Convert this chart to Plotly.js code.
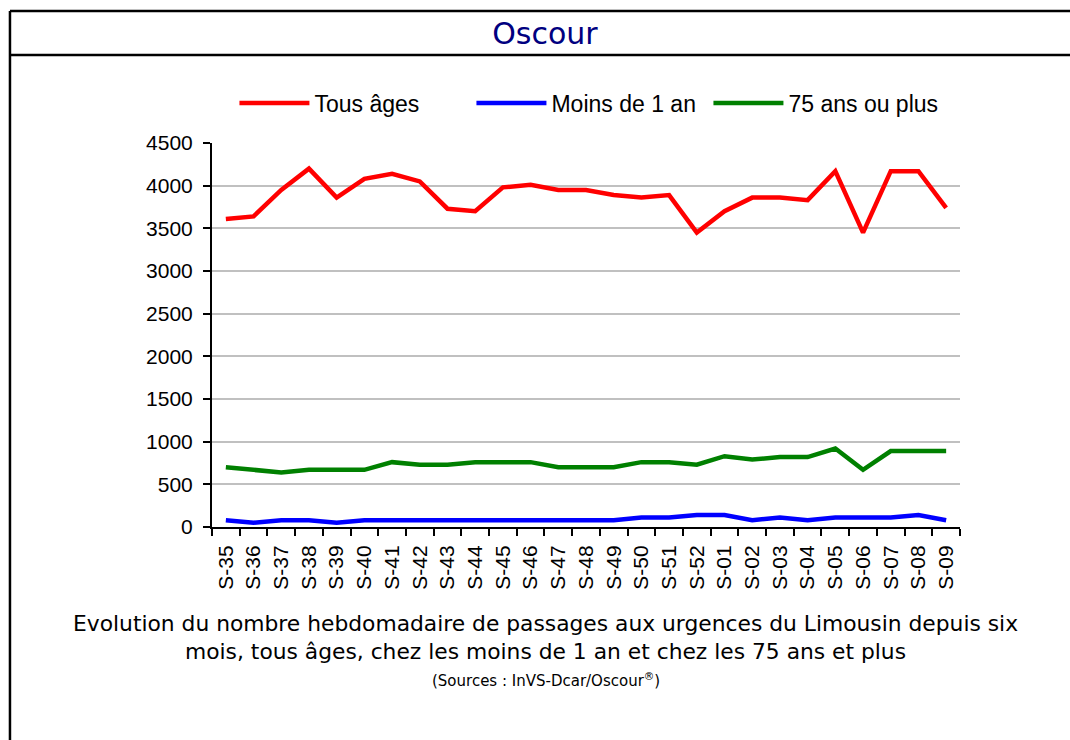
<!DOCTYPE html>
<html>
<head>
<meta charset="utf-8">
<script src="https://cdn.plot.ly/plotly-3.0.1.min.js"></script>
<style>
  body { margin: 0; background: #fff; }
  #plot { width: 1070px; height: 740px; }
</style>
</head>
<body>
<div id="plot"></div>
<script>
// Week labels
let weeks = ['S-35', 'S-36', 'S-37', 'S-38', 'S-39', 'S-40', 'S-41', 'S-42', 'S-43',
    'S-44', 'S-45', 'S-46', 'S-47', 'S-48', 'S-49', 'S-50', 'S-51', 'S-52',
    'S-01', 'S-02', 'S-03', 'S-04', 'S-05', 'S-06', 'S-07', 'S-08', 'S-09'];

// Weekly ER visits
let tousAges = [3610, 3640, 3950, 4200, 3860, 4080, 4140, 4050, 3730,
    3700, 3980, 4010, 3950, 3950, 3890, 3860, 3890, 3450,
    3700, 3860, 3860, 3830, 4170, 3450, 4170, 4170, 3740];
let moins1an = [80, 50, 80, 80, 50, 80, 80, 80, 80,
    80, 80, 80, 80, 80, 80, 110, 110, 140,
    140, 80, 110, 80, 110, 110, 110, 140, 80];
let plus75 = [700, 670, 640, 670, 670, 670, 760, 730, 730,
    760, 760, 760, 700, 700, 700, 760, 760, 730,
    830, 790, 820, 820, 920, 670, 890, 890, 890];

let names = ['Tous âges', 'Moins de 1 an', '75 ans ou plus'];
let colors = ['#ff0000', '#0000ff', '#008000'];
let series = [tousAges, moins1an, plus75];

let data = series.map(function (ys, i) {
    return {
        x: weeks,
        y: ys,
        name: names[i],
        type: 'scatter',
        mode: 'lines',
        line: {color: colors[i], width: 4.5}
    };
});

let captionFont = {family: 'DejaVu Sans, sans-serif', size: 21.8, color: '#000'};

let layout = {
    width: 1070,
    height: 740,
    margin: {l: 212, r: 110, t: 143, b: 213},
    paper_bgcolor: '#fff',
    plot_bgcolor: '#fff',
    font: {family: 'Liberation Sans, Arial, sans-serif', color: '#000'},
    title: {
        text: 'Oscour',
        font: {family: 'DejaVu Sans, sans-serif', size: 30, color: '#000080'},
        x: 0.5093, xanchor: 'center',
        y: 0.955, yanchor: 'middle'
    },
    showlegend: true,
    legend: {
        orientation: 'h',
        x: 0.03, xanchor: 'left',
        y: 1.104, yanchor: 'middle',
        font: {size: 23},
        itemwidth: 70,
        entrywidth: 152,
        entrywidthmode: 'pixels',
        traceorder: 'normal'
    },
    xaxis: {
        type: 'category',
        range: [-0.5, 26.5],
        tickangle: -90,
        tickson: 'boundaries',
        ticks: 'outside',
        ticklen: 7,
        tickwidth: 2,
        tickcolor: '#000',
        ticklabelstandoff: 8,
        showline: true,
        linecolor: '#000',
        linewidth: 2,
        showgrid: false,
        tickfont: {size: 21},
        fixedrange: true
    },
    yaxis: {
        range: [0, 4500],
        dtick: 500,
        ticks: 'outside',
        ticklen: 7,
        tickwidth: 2,
        tickcolor: '#000',
        ticklabelstandoff: 6,
        showline: true,
        linecolor: '#000',
        linewidth: 2,
        gridcolor: '#c0c0c0',
        gridwidth: 2,
        zeroline: false,
        tickfont: {size: 21},
        fixedrange: true
    },
    shapes: [
        // outer frame and title separator
        {type: 'line', xref: 'paper', yref: 'paper', x0: -0.2701, x1: 1.2, y0: 1.34375, y1: 1.34375, line: {color: '#000', width: 2.5}},
        {type: 'line', xref: 'paper', yref: 'paper', x0: -0.2701, x1: 1.2, y0: 1.229, y1: 1.229, line: {color: '#000', width: 2.5}},
        {type: 'line', xref: 'paper', yref: 'paper', x0: -0.2701, x1: -0.2701, y0: 1.34375, y1: -0.6, line: {color: '#000', width: 2.5}}
    ],
    annotations: [
        {text: 'Evolution du nombre hebdomadaire de passages aux urgences du Limousin depuis six',
         xref: 'paper', yref: 'paper', x: 0.4465, y: -0.29, showarrow: false, font: captionFont},
        {text: 'mois, tous âges, chez les moins de 1 an et chez les 75 ans et plus',
         xref: 'paper', yref: 'paper', x: 0.4465, y: -0.362, showarrow: false, font: captionFont},
        {text: '(Sources : InVS-Dcar/Oscour<sup>®</sup>)',
         xref: 'paper', yref: 'paper', x: 0.4465, y: -0.43, showarrow: false,
         font: {family: 'DejaVu Sans, sans-serif', size: 15, color: '#000'}}
    ]
};

Plotly.newPlot('plot', data, layout, {displayModeBar: false, staticPlot: true});
</script>
</body>
</html>
